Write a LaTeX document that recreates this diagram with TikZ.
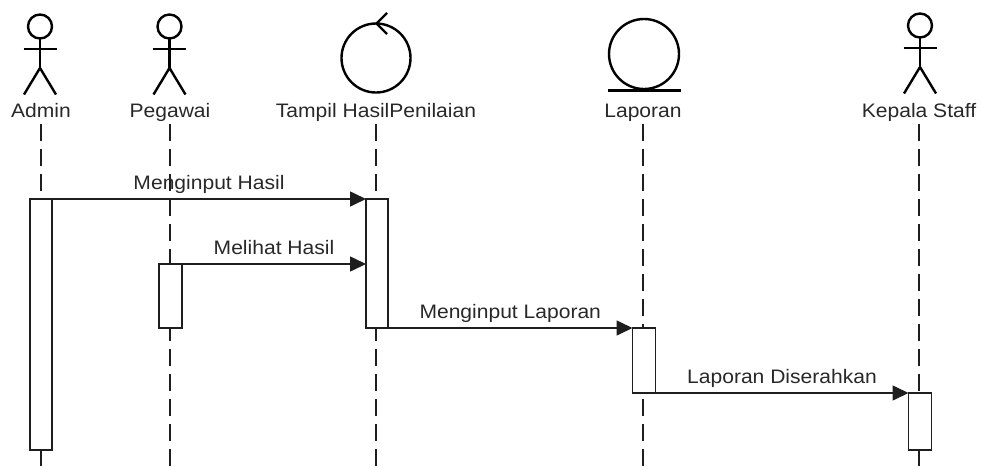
\documentclass[tikz,border=0pt]{standalone}
\usepackage{fontspec}
\setmainfont{Liberation Sans}[FakeStretch=1.08]
\usetikzlibrary{arrows.meta}
\definecolor{txt}{RGB}{40,40,40}
\definecolor{ln}{RGB}{30,30,30}
\begin{document}
\begin{tikzpicture}[x=1pt,y=-1pt,
  lbl/.style={font=\fontsize{19.5}{22}\selectfont, text=txt, inner sep=0pt},
  icon/.style={line width=2.4pt, draw=black},
  lifeline/.style={line width=1.6pt, draw=ln, dash pattern=on 17pt off 8pt},
  act/.style={draw=ln, fill=white, line width=1.6pt, inner sep=0pt, outer sep=0pt, anchor=north},
  msg/.style={draw=ln, line width=1.6pt, -{Triangle[length=16pt,width=15pt]}},
]
\useasboundingbox (0,0) rectangle (981,469);

% ---- actor icons ----
\foreach \cx/\cy in {40/26.5, 169.5/26.5, 920/25.5}{
  \draw[icon] (\cx,\cy) circle (12);
  \draw[icon] (\cx,\cy+12) -- (\cx,\cy+41.5);
  \draw[icon] (\cx-16.5,\cy+22.5) -- (\cx+16.5,\cy+22.5);
  \draw[icon] (\cx-16,\cy+68) -- (\cx,\cy+41.5) -- (\cx+16,\cy+68);
}
% control icon
\draw[icon] (376,58) circle (34.5);
\draw[icon] (387,13) -- (376.5,23.5) -- (387,34);
% entity icon
\draw[icon] (644,54) circle (35);
\draw[line width=3pt] (608,90) -- (681,90);

% ---- heads ----
\node[lbl, anchor=base] (hAdmin) at (41,117) {Admin};
\node[lbl, anchor=base] (hPeg) at (170,117) {Pegawai};
\node[lbl, anchor=base] (hTam) at (376,117) {Tampil HasilPenilaian};
\node[lbl, anchor=base] (hLap) at (643,117) {Laporan};
\node[lbl, anchor=base] (hKep) at (919,117) {Kepala Staff};

% ---- lifelines ----
\coordinate (eAdmin) at (41,469);
\coordinate (ePeg) at (170,469);
\coordinate (eTam) at (376,469);
\coordinate (eLap) at (643,469);
\coordinate (eKep) at (919,469);
\draw[lifeline] (41,124) -- (eAdmin);
\draw[lifeline] (170,124) -- (ePeg);
\draw[lifeline] (376,124) -- (eTam);
\draw[lifeline] (643,124) -- (eLap);
\draw[lifeline] (919,124) -- (eKep);

% ---- activations ----
\node[act, minimum width=22pt, minimum height=251pt] (aAdmin) at (41,199) {};
\node[act, minimum width=23pt, minimum height=64pt] (aPeg) at (170.5,264) {};
\node[act, minimum width=22pt, minimum height=129pt] (aTam) at (377,199) {};
\node[act, minimum width=23pt, minimum height=65pt] (aLap) at (644,328) {};
\node[act, minimum width=23pt, minimum height=57pt] (aKep) at (920,393) {};

% ---- messages ----
\draw[msg] (aAdmin.north east) -- node[lbl, above=10pt, anchor=base] {Menginput Hasil} (aTam.north west);
\draw[msg] (aPeg.north east) -- node[lbl, above=10pt, anchor=base] {Melihat Hasil} (aPeg.north east -| aTam.west);
\draw[msg] (aTam.south east) -- node[lbl, above=10pt, anchor=base] {Menginput Laporan} (aLap.north west);
\draw[msg] (aLap.south east) -- node[lbl, above=10pt, anchor=base] {Laporan Diserahkan} (aKep.north west);
\end{tikzpicture}
\end{document}
